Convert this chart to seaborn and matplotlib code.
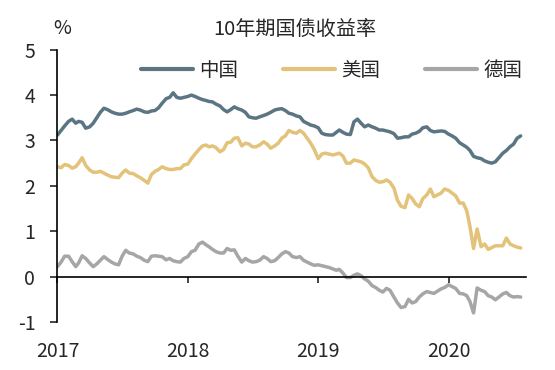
import pandas as pd
import matplotlib
matplotlib.use('Agg')
import matplotlib.pyplot as plt
import matplotlib.dates as mdates
import seaborn as sns

# ── Style ──────────────────────────────────────────────────────────────────────
sns.set_style('ticks')
plt.rcParams['font.family'] = ['Noto Sans CJK SC', 'DejaVu Sans']
plt.rcParams['axes.unicode_minus'] = False

CN_COLOR = '#5B7583'
US_COLOR = '#E3C27A'
DE_COLOR = '#A6A6A6'

# ── Data: 10Y yields, sampled on the 1st, 11th and 21st of each month ─────────
months = pd.date_range('2017-01-01', '2020-07-01', freq='MS')
dates = [m + pd.Timedelta(days=d) for m in months for d in (0, 10, 20)]

china = [
    3.12, 3.22, 3.32, 3.42, 3.47, 3.38, 3.42, 3.40, 3.27, 3.30, 3.38, 3.50,
    3.62, 3.71, 3.68, 3.63, 3.60, 3.58, 3.58, 3.60, 3.63, 3.66, 3.69, 3.67,
    3.63, 3.62, 3.65, 3.66, 3.72, 3.82, 3.92, 3.95, 4.05, 3.95, 3.93, 3.95,
    3.97, 4.00, 3.97, 3.93, 3.90, 3.88, 3.86, 3.85, 3.80, 3.76, 3.68, 3.63,
    3.68, 3.74, 3.70, 3.67, 3.62, 3.52, 3.50, 3.49, 3.52, 3.55, 3.58, 3.62,
    3.67, 3.69, 3.70, 3.66, 3.60, 3.58, 3.54, 3.52, 3.42, 3.38, 3.34, 3.32,
    3.28, 3.16, 3.13, 3.12, 3.12, 3.18, 3.23, 3.18, 3.14, 3.13, 3.41, 3.47,
    3.38, 3.30, 3.34, 3.30, 3.27, 3.23, 3.23, 3.21, 3.19, 3.15, 3.05, 3.06,
    3.08, 3.08, 3.14, 3.16, 3.20, 3.28, 3.30, 3.22, 3.19, 3.20, 3.21, 3.20,
    3.14, 3.10, 3.05, 2.95, 2.90, 2.85, 2.78, 2.65, 2.62, 2.60, 2.55, 2.52,
    2.50, 2.53, 2.62, 2.72, 2.78, 2.86, 2.92, 3.05, 3.10,
]
usa = [
    2.42, 2.40, 2.47, 2.45, 2.39, 2.42, 2.50, 2.62, 2.45, 2.35, 2.30, 2.30,
    2.32, 2.28, 2.24, 2.20, 2.19, 2.18, 2.28, 2.35, 2.28, 2.27, 2.22, 2.18,
    2.12, 2.06, 2.25, 2.32, 2.36, 2.42, 2.38, 2.36, 2.36, 2.38, 2.38, 2.46,
    2.48, 2.60, 2.70, 2.80, 2.88, 2.90, 2.86, 2.88, 2.84, 2.75, 2.80, 2.95,
    2.96, 3.05, 3.06, 2.88, 2.94, 2.92, 2.86, 2.86, 2.90, 2.97, 2.92, 2.83,
    2.88, 2.94, 3.05, 3.10, 3.22, 3.18, 3.16, 3.22, 3.16, 3.05, 2.94, 2.80,
    2.60, 2.70, 2.72, 2.70, 2.68, 2.70, 2.72, 2.66, 2.50, 2.50, 2.57, 2.55,
    2.53, 2.48, 2.40, 2.20, 2.12, 2.08, 2.09, 2.13, 2.08, 1.95, 1.68, 1.55,
    1.52, 1.80, 1.72, 1.60, 1.54, 1.72, 1.80, 1.93, 1.76, 1.80, 1.84, 1.93,
    1.90, 1.84, 1.78, 1.62, 1.62, 1.45, 1.10, 0.62, 1.05, 0.66, 0.72, 0.60,
    0.64, 0.68, 0.68, 0.68, 0.85, 0.72, 0.68, 0.65, 0.63,
]
germany = [
    0.22, 0.32, 0.45, 0.45, 0.33, 0.22, 0.30, 0.46, 0.40, 0.30, 0.22, 0.28,
    0.36, 0.44, 0.38, 0.32, 0.28, 0.26, 0.45, 0.58, 0.52, 0.50, 0.45, 0.42,
    0.36, 0.33, 0.45, 0.46, 0.45, 0.44, 0.37, 0.40, 0.35, 0.33, 0.32, 0.40,
    0.44, 0.55, 0.58, 0.72, 0.76, 0.70, 0.66, 0.60, 0.55, 0.52, 0.52, 0.62,
    0.58, 0.59, 0.45, 0.32, 0.40, 0.35, 0.32, 0.33, 0.36, 0.44, 0.40, 0.33,
    0.35, 0.42, 0.50, 0.55, 0.52, 0.44, 0.42, 0.44, 0.36, 0.32, 0.28, 0.25,
    0.26, 0.24, 0.22, 0.20, 0.17, 0.14, 0.16, 0.08, -0.02, -0.02, 0.03, 0.06,
    0.02, -0.05, -0.10, -0.20, -0.24, -0.30, -0.34, -0.26, -0.30, -0.45, -0.58, -0.68,
    -0.66, -0.50, -0.58, -0.55, -0.45, -0.38, -0.33, -0.35, -0.37, -0.32, -0.27, -0.24,
    -0.18, -0.22, -0.26, -0.37, -0.38, -0.42, -0.55, -0.80, -0.25, -0.30, -0.33, -0.42,
    -0.45, -0.51, -0.45, -0.38, -0.35, -0.42, -0.45, -0.44, -0.45,
]

series_names = ['中国', '美国', '德国']
df = pd.concat([
    pd.DataFrame({'date': dates, 'yield': vals, 'country': name})
    for name, vals in zip(series_names, [china, usa, germany])
])

# ── Plot ───────────────────────────────────────────────────────────────────────
fig = plt.figure(figsize=(5.55, 3.7), dpi=100)
ax = fig.add_axes([0.1036, 0.1297, 0.8436, 0.736])

sns.lineplot(data=df, x='date', y='yield', hue='country', hue_order=series_names,
             palette=[CN_COLOR, US_COLOR, DE_COLOR], linewidth=2.5, ax=ax)

ax.set_ylim(-1, 5)
ax.set_xlim(pd.Timestamp('2017-01-01'), pd.Timestamp('2020-08-04'))
ax.set_xlabel('')
ax.set_ylabel('')

ax.spines['top'].set_visible(False)
ax.spines['right'].set_visible(False)
ax.spines['bottom'].set_position(('data', 0))
for sp in ('left', 'bottom'):
    ax.spines[sp].set_color('black')
    ax.spines[sp].set_linewidth(1.2)

ax.xaxis.set_major_locator(mdates.YearLocator())
ax.xaxis.set_major_formatter(mdates.DateFormatter('%Y'))
ax.tick_params(axis='x', direction='out', length=4, width=1.2, pad=42, labelsize=14)
ax.tick_params(axis='y', direction='out', length=5, width=1.2, pad=11, labelsize=14)
ax.set_yticks([-1, 0, 1, 2, 3, 4, 5])

leg = ax.legend(loc='center', bbox_to_anchor=(0.585, 0.925), ncol=3, frameon=False,
                fontsize=14, handlelength=2.7, handletextpad=0.3, columnspacing=2.3,
                borderpad=0)
for line in leg.get_lines():
    line.set_linewidth(3)

fig.text(0.532, 1 - 29 / 370, '10年期国债收益率', ha='center', va='center', fontsize=14.5)
fig.text(62 / 555, 1 - 29 / 370, '%', ha='center', va='center', fontsize=14)

plt.savefig('out.png', dpi=100)
plt.close()
